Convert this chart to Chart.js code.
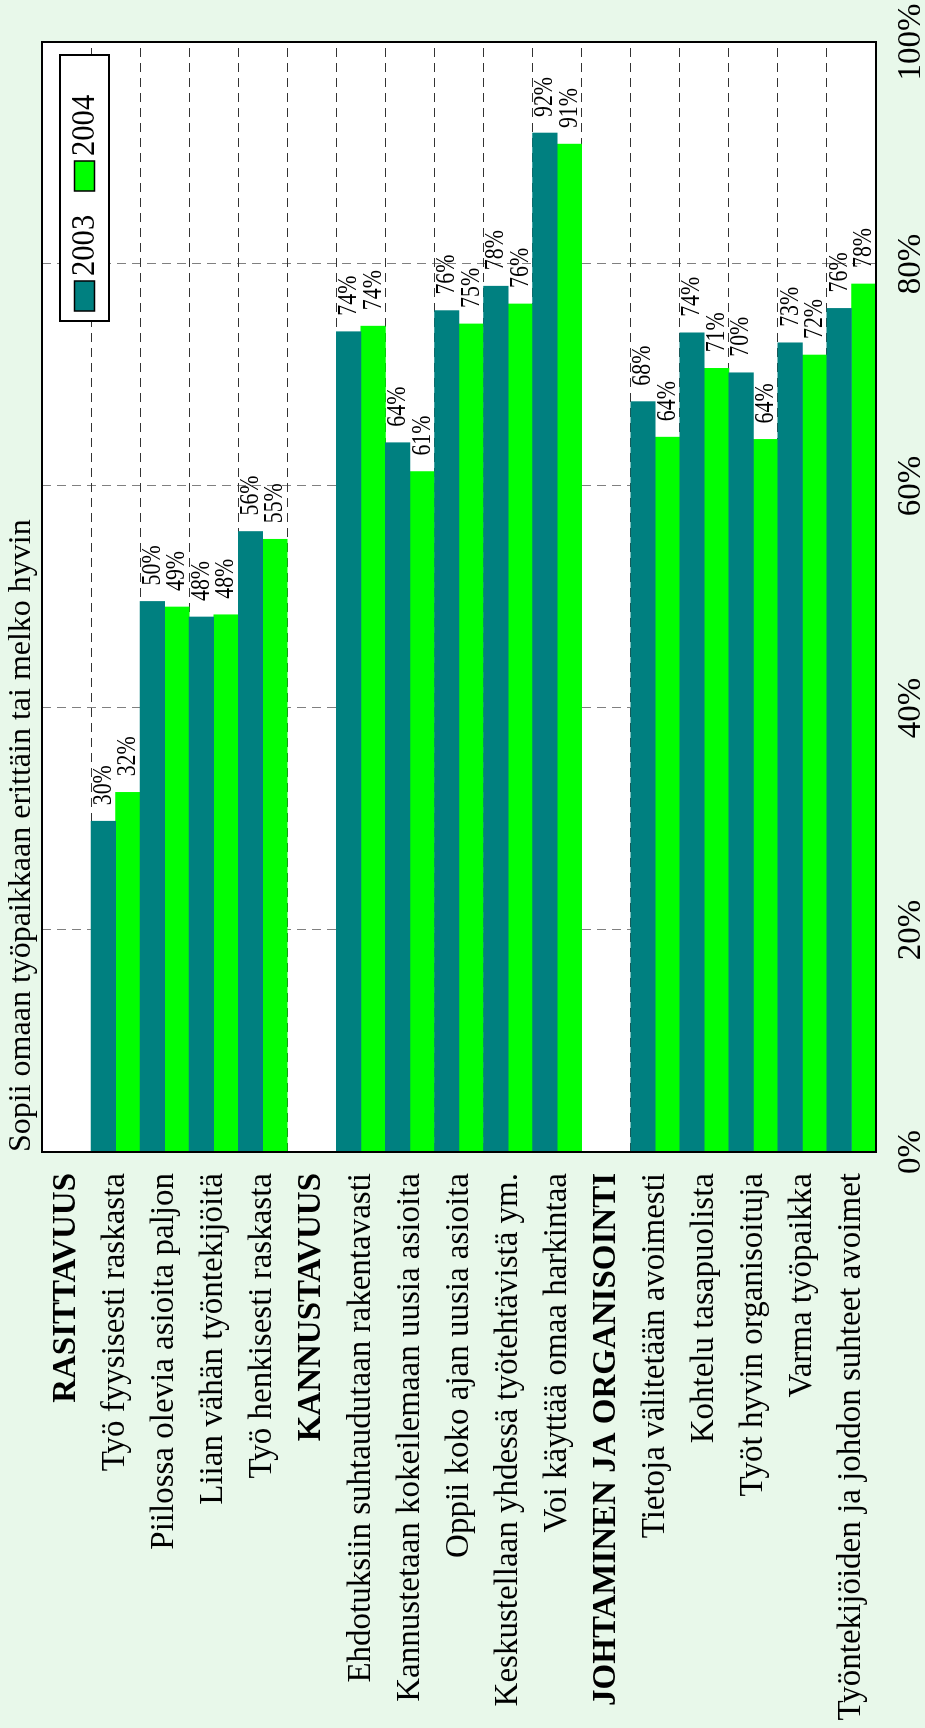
<!DOCTYPE html>
<html>
<head>
<meta charset="utf-8">
<script src="https://cdn.jsdelivr.net/npm/chart.js@4.4.1/dist/chart.umd.min.js"></script>
<style>
    html, body { margin: 0; padding: 0; background: #e8f8ea; }
    body { width: 925px; height: 1728px; overflow: hidden; position: relative; }
    /* chart is drawn landscape, then turned so the text reads bottom-to-top */
    #wrap {
        position: absolute; left: 0; top: 0;
        width: 1728px; height: 925px;
        transform-origin: 0 0;
        transform: translateY(1728px) rotate(-90deg);
    }
</style>
</head>
<body>
<div id="wrap"><canvas id="chart" width="1728" height="925"></canvas></div>
<script>
const categories = [
    "RASITTAVUUS",
    "Työ fyysisesti raskasta",
    "Piilossa olevia asioita paljon",
    "Liian vähän työntekijöitä",
    "Työ henkisesti raskasta",
    "KANNUSTAVUUS",
    "Ehdotuksiin suhtaudutaan rakentavasti",
    "Kannustetaan kokeilemaan uusia asioita",
    "Oppii koko ajan uusia asioita",
    "Keskustellaan yhdessä työtehtävistä ym.",
    "Voi käyttää omaa harkintaa",
    "JOHTAMINEN JA ORGANISOINTI",
    "Tietoja välitetään avoimesti",
    "Kohtelu tasapuolista",
    "Työt hyvin organisoituja",
    "Varma työpaikka",
    "Työntekijöiden ja johdon suhteet avoimet"
];
const headerRows = [0, 5, 11];

const values2003 = [null, 29.8, 49.6, 48.2, 55.9, null, 73.9, 63.9, 75.8, 78.0, 91.8, null, 67.6, 73.8, 70.2, 72.9, 76.0];
const values2004 = [null, 32.4, 49.1, 48.4, 55.2, null, 74.4, 61.3, 74.6, 76.4, 90.8, null, 64.4, 70.6, 64.2, 71.8, 78.2];

const seriesNames = ["2003", "2004"];
const seriesColors = ["#008080", "#00ff00"];
const titleText = "Sopii omaan työpaikkaan erittäin tai melko hyvin";

const FONT = "'Liberation Serif', 'Times New Roman', serif";


// narrow text: the original uses condensed glyphs for the value labels
function drawNarrowText(ctx, text, x, y, sx) {
    ctx.save();
    ctx.translate(x, y);
    ctx.scale(sx, 1);
    ctx.fillText(text, 0, 0);
    ctx.restore();
}

// white plot, black frame, values at bar ends, boxed legend
const framePlugin = {
    id: 'frame',
    beforeDraw(chart) {
        const a = chart.chartArea;
        const ctx = chart.ctx;
        ctx.save();
        ctx.fillStyle = '#ffffff';
        ctx.fillRect(a.left, a.top, a.right - a.left, a.bottom - a.top);
        ctx.restore();
    },
    afterDatasetsDraw(chart) {
        const ctx = chart.ctx;
        ctx.save();
        ctx.font = "28px " + FONT;
        ctx.fillStyle = '#000';
        ctx.textAlign = 'left';
        ctx.textBaseline = 'middle';
        chart.data.datasets.forEach((ds, i) => {
            const meta = chart.getDatasetMeta(i);
            meta.data.forEach((bar, j) => {
                const v = ds.data[j];
                if (v === null) return;
                drawNarrowText(ctx, Math.round(v) + '%', bar.x + 16, bar.y, 0.78);
            });
        });
        ctx.restore();
    },
    afterDraw(chart) {
        const a = chart.chartArea;
        const ctx = chart.ctx;
        ctx.save();
        ctx.strokeStyle = '#000';
        ctx.lineWidth = 2;
        ctx.strokeRect(a.left, a.top, a.right - a.left, a.bottom - a.top);

        // legend box
        const bx = a.right - 279, by = a.top + 18, bw = 266, bh = 49;
        ctx.fillStyle = '#fff';
        ctx.fillRect(bx, by, bw, bh);
        ctx.strokeRect(bx, by, bw, bh);
        ctx.font = "34px " + FONT;
        ctx.textBaseline = 'middle';
        ctx.textAlign = 'left';
        const cy = by + bh / 2;
        [10, 130].forEach((off, i) => {
            ctx.fillStyle = seriesColors[i];
            ctx.fillRect(bx + off, cy - 10, 30, 20);
            ctx.lineWidth = 1.5;
            ctx.strokeRect(bx + off, cy - 10, 30, 20);
            ctx.fillStyle = '#000';
            drawNarrowText(ctx, seriesNames[i], bx + off + 35, cy + 1, 0.9);
        });
        ctx.restore();
    }
};

function renderChart() {
    const ctx = document.getElementById('chart').getContext('2d');

    new Chart(ctx, {
        type: 'bar',
        data: {
            labels: categories,
            datasets: [
                {
                    label: seriesNames[0],
                    data: values2003,
                    backgroundColor: seriesColors[0],
                    categoryPercentage: 1,
                    barPercentage: 1
                },
                {
                    label: seriesNames[1],
                    data: values2004,
                    backgroundColor: seriesColors[1],
                    categoryPercentage: 1,
                    barPercentage: 1
                }
            ]
        },
        options: {
            indexAxis: 'y',
            responsive: false,
            animation: false,
            devicePixelRatio: 1,
            layout: {
                padding: { left: 0, right: 42, top: 0, bottom: 0 }
            },
            plugins: {
                legend: { display: false },
                tooltip: { enabled: false },
                title: {
                    display: true,
                    text: titleText,
                    align: 'start',
                    fullSize: false,
                    color: '#000',
                    font: { family: FONT, size: 32, weight: 'normal', lineHeight: 1.2 },
                    padding: { top: 2, bottom: 1.6 }
                }
            },
            scales: {
                x: {
                    min: 0,
                    max: 100,
                    ticks: {
                        stepSize: 20,
                        callback: v => v + '%',
                        color: '#000',
                        padding: 16,
                        maxRotation: 0,
                        autoSkip: false,
                        font: { family: FONT, size: 33 }
                    },
                    grid: {
                        color: '#808080',
                        lineWidth: 1,
                        drawTicks: false
                    },
                    border: { display: false, dash: [9, 6] },
                    afterFit: scale => {
                        scale.height = 49;
                        scale.paddingLeft = 0;
                        scale.paddingRight = 0;
                    }
                },
                y: {
                    ticks: {
                        color: '#000',
                        padding: 21,
                        autoSkip: false,
                        font: ctx => ({
                            family: FONT,
                            size: 33,
                            weight: headerRows.includes(ctx.index) ? 'bold' : 'normal'
                        })
                    },
                    grid: {
                        offset: true,
                        color: '#333',
                        lineWidth: 1,
                        drawTicks: false
                    },
                    border: { display: false, dash: [9, 6] },
                    afterFit: scale => {
                        scale.width = 576;
                        scale.paddingTop = 0;
                        scale.paddingBottom = 0;
                    }
                }
            }
        },
        plugins: [framePlugin]
    });
}

renderChart();
</script>
</body>
</html>
